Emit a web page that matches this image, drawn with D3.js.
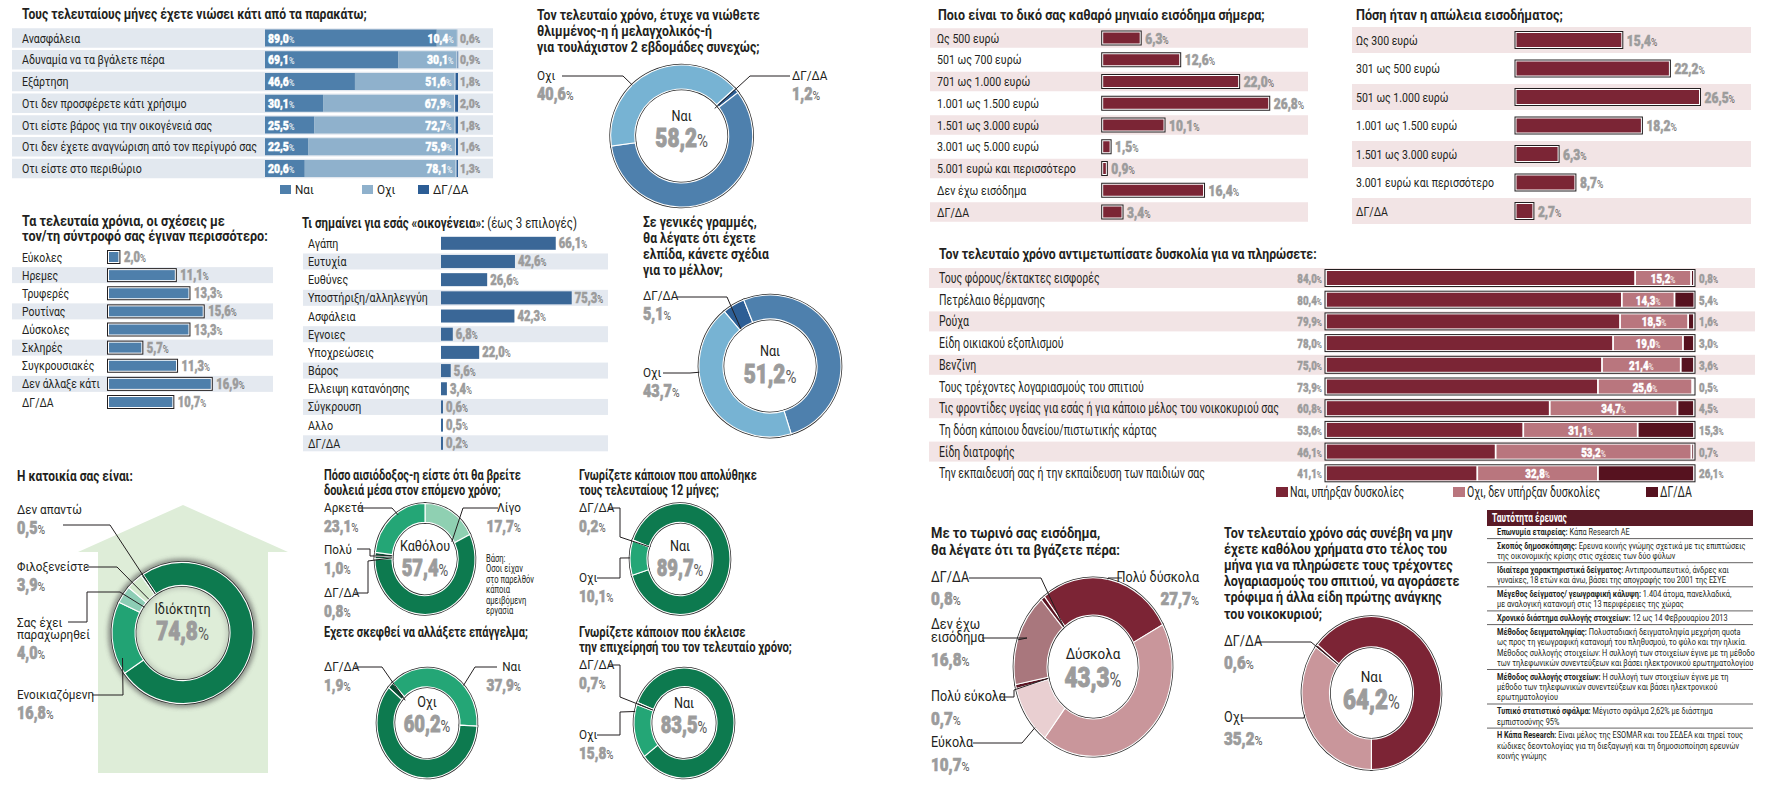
<!DOCTYPE html>
<html><head><meta charset="utf-8">
<script src="https://cdn.jsdelivr.net/npm/d3@7/dist/d3.min.js"></script>
<style>html,body{margin:0;padding:0;background:#fff;overflow:hidden}svg{display:block}</style>
</head><body>
<script>
// ================= DATA =================
const feelCats = ["Ανασφάλεια","Αδυναμία να τα βγάλετε πέρα","Εξάρτηση","Οτι δεν προσφέρετε κάτι χρήσιμο","Οτι είστε βάρος για την οικογένειά σας","Οτι δεν έχετε αναγνώριση από τον περίγυρό σας","Οτι είστε στο περιθώριο"];
const feelYes = [89.0, 69.1, 46.6, 30.1, 25.5, 22.5, 20.6];
const feelNo  = [10.4, 30.1, 51.6, 67.9, 72.7, 75.9, 78.1];
const feelNa  = [0.6, 0.9, 1.8, 2.0, 1.8, 1.6, 1.3];
const feelLegend = ["Ναι","Οχι","ΔΓ/ΔΑ"];

const sadLabels = ["ΔΓ/ΔΑ","Ναι","Οχι"];
const sadValues = [1.2, 58.2, 40.6];

const partnerCats = ["Εύκολες","Ηρεμες","Τρυφερές","Ρουτίνας","Δύσκολες","Σκληρές","Συγκρουσιακές","Δεν άλλαξε κάτι","ΔΓ/ΔΑ"];
const partnerVals = [2.0, 11.1, 13.3, 15.6, 13.3, 5.7, 11.3, 16.9, 10.7];

const familyCats = ["Αγάπη","Ευτυχία","Ευθύνες","Υποστήριξη/αλληλεγγύη","Ασφάλεια","Εγνοιες","Υποχρεώσεις","Βάρος","Ελλειψη κατανόησης","Σύγκρουση","Αλλο","ΔΓ/ΔΑ"];
const familyVals = [66.1, 42.6, 26.6, 75.3, 42.3, 6.8, 22.0, 5.6, 3.4, 0.6, 0.5, 0.2];

const hopeLabels = ["ΔΓ/ΔΑ","Ναι","Οχι"];
const hopeValues = [5.1, 51.2, 43.7];

const homeLabels = ["Ιδιόκτητη","Ενοικιαζόμενη","Σας έχει παραχωρηθεί","Φιλοξενείστε","Δεν απαντώ"];
const homeValues = [74.8, 16.8, 4.0, 3.9, 0.5];

const jobLabels = ["Λίγο","Καθόλου","ΔΓ/ΔΑ","Πολύ","Αρκετά"];
const jobValues = [17.7, 57.4, 0.8, 1.0, 23.1];

const changeLabels = ["ΔΓ/ΔΑ","Ναι","Οχι"];
const changeValues = [1.9, 37.9, 60.2];

const firedLabels = ["Ναι","Οχι","ΔΓ/ΔΑ"];
const firedValues = [89.7, 10.1, 0.2];

const closedLabels = ["Ναι","Οχι","ΔΓ/ΔΑ"];
const closedValues = [83.5, 15.8, 0.7];

const incomeCats = ["Ως 500 ευρώ","501 ως 700 ευρώ","701 ως 1.000 ευρώ","1.001 ως 1.500 ευρώ","1.501 ως 3.000 ευρώ","3.001 ως 5.000 ευρώ","5.001 ευρώ και περισσότερο","Δεν έχω εισόδημα","ΔΓ/ΔΑ"];
const incomeVals = [6.3, 12.6, 22.0, 26.8, 10.1, 1.5, 0.9, 16.4, 3.4];

const lossCats = ["Ως 300 ευρώ","301 ως 500 ευρώ","501 ως 1.000 ευρώ","1.001 ως 1.500 ευρώ","1.501 ως 3.000 ευρώ","3.001 ευρώ και περισσότερο","ΔΓ/ΔΑ"];
const lossVals = [15.4, 22.2, 26.5, 18.2, 6.3, 8.7, 2.7];

const payCats = ["Τους φόρους/έκτακτες εισφορές","Πετρέλαιο θέρμανσης","Ρούχα","Είδη οικιακού εξοπλισμού","Βενζίνη","Τους τρέχοντες λογαριασμούς του σπιτιού","Τις φροντίδες υγείας για εσάς ή για κάποιο μέλος του νοικοκυριού σας","Τη δόση κάποιου δανείου/πιστωτικής κάρτας","Είδη διατροφής","Την εκπαιδευσή σας ή την εκπαίδευση των παιδιών σας"];
const payYes = [84.0, 80.4, 79.9, 78.0, 75.0, 73.9, 60.8, 53.6, 46.1, 41.1];
const payNo  = [15.2, 14.3, 18.5, 19.0, 21.4, 25.6, 34.7, 31.1, 53.2, 32.8];
const payNa  = [0.8, 5.4, 1.6, 3.0, 3.6, 0.5, 4.5, 15.3, 0.7, 26.1];
const payLegend = ["Ναι, υπήρξαν δυσκολίες","Οχι, δεν υπήρξαν δυσκολίες","ΔΓ/ΔΑ"];

const copeLabels = ["Πολύ δύσκολα","Δύσκολα","Εύκολα","Πολύ εύκολα","Δεν έχω εισόδημα","ΔΓ/ΔΑ"];
const copeValues = [27.7, 43.3, 10.7, 0.7, 16.8, 0.8];

const brokeLabels = ["Ναι","Οχι","ΔΓ/ΔΑ"];
const brokeValues = [64.2, 35.2, 0.6];

const surveyRows = [
  ["Επωνυμία εταιρείας:", " Κάπα Research AE"],
  ["Σκοπός δημοσκόπησης:", " Ερευνα κοινής γνώμης σχετικά με τις επιπτώσεις", "της οικονομικής κρίσης στις σχέσεις των δύο φύλων"],
  ["Ιδιαίτερα χαρακτηριστικά δείγματος:", " Αντιπροσωπευτικό, άνδρες και", "γυναίκες, 18 ετών και άνω, βάσει της απογραφής του 2001 της ΕΣΥΕ"],
  ["Μέγεθος δείγματος/ γεωγραφική κάλυψη:", " 1.404 άτομα, πανελλαδικά,", "με αναλογική κατανομή στις 13 περιφέρειες της χώρας"],
  ["Χρονικό διάστημα συλλογής στοιχείων:", " 12 ως 14 Φεβρουαρίου 2013"],
  ["Μέθοδος δειγματοληψίας:", " Πολυσταδιακή δειγματοληψία μεχρήση quota", "ως προς τη γεωγραφική κατανομή του πληθυσμού, το φύλο και την ηλικία.", "Μέθοδος συλλογής στοιχείων: Η συλλογή των στοιχείων έγινε με τη μέθοδο", "των τηλεφωνικών συνεντεύξεων και βάσει ηλεκτρονικού ερωτηματολογίου"],
  ["Μέθοδος συλλογής στοιχείων:", " Η συλλογή των στοιχείων έγινε με τη", "μέθοδο των τηλεφωνικών συνεντεύξεων και βάσει ηλεκτρονικού", "ερωτηματολογίου"],
  ["Τυπικό στατιστικό σφάλμα:", " Μέγιστο σφάλμα 2,62% με διάστημα", "εμπιστοσύνης 95%"],
  ["Η Κάπα Research:", " Είναι μέλος της ESOMAR και του ΣΕΔΕΑ και τηρεί τους", "κώδικες δεοντολογίας για τη διεξαγωγή και τη δημοσιοποίηση ερευνών", "κοινής γνώμης"]
];

// ================= HELPERS =================
const INK = '#231f20', GRAY = '#9c9c9c';
const svg = d3.select('body').append('svg').attr('width', 1768).attr('height', 787)
  .attr('font-family', "Roboto, 'Noto Sans', 'DejaVu Sans', sans-serif");
const defs = svg.append('defs');
defs.append('filter').attr('id', 'blur').attr('x', '-30%').attr('y', '-30%').attr('width', '160%').attr('height', '160%')
  .append('feGaussianBlur').attr('stdDeviation', 2.5);

const fmt = v => d3.format('.1f')(v).replace('.', ',');
function txt(g, x, y, s, o = {}) {
  return g.append('text')
    .attr('transform', `translate(${x},${y}) scale(${o.sx ?? 1},1)`)
    .attr('font-size', o.size ?? 13).attr('font-weight', o.w ?? 400)
    .attr('fill', o.fill ?? INK).attr('text-anchor', o.anchor ?? 'start').text(s);
}
function setSx(t, s) { t.attr('transform', t.attr('transform').replace(/scale\([^)]*\)/, `scale(${s},1)`)); }
function fit(list, target) {
  const L = d3.max(list, t => t.node().getComputedTextLength());
  const s = target / L; list.forEach(t => setSx(t, s)); return s;
}
function val(g, x, y, v, o = {}) {
  const size = o.size ?? 13;
  const fill = o.fill ?? GRAY;
  const t = g.append('text').attr('transform', `translate(${x},${y}) scale(${o.sx ?? 0.8},1)`)
    .attr('text-anchor', o.anchor ?? 'start');
  t.append('tspan').attr('font-size', size).attr('font-weight', 900).attr('fill', fill)
    .attr('stroke', fill).attr('stroke-width', size * 0.035).attr('paint-order', 'stroke').text(fmt(v));
  t.append('tspan').attr('font-size', size * 0.72).attr('font-weight', 400).attr('fill', o.pct ?? '#5a5a5a').text('%');
  return t;
}

// ================= P1: feelings stacked bars =================
(function () {
  const g = svg.append('g');
  fit([txt(g, 22, 19, "Τους τελευταίους μήνες έχετε νιώσει κάτι από τα παρακάτω;", { size: 14, w: 700 })], 345);
  const y = d3.scalePoint().domain(feelCats).range([38, 38 + 21.75 * (feelCats.length - 1)]);
  const x = d3.scaleLinear().domain([0, 100]).range([265, 458]);
  g.selectAll(null).data(feelCats).join('rect').attr('x', 12).attr('width', 481)
    .attr('y', d => y(d) - 9.75).attr('height', 19.5).attr('fill', '#e2e8ef');
  fit(feelCats.map(c => txt(g, 22, y(c) + 4.5, c, { size: 13 })), 235);
  const rows = feelCats.map((c, i) => ({ cat: c, yes: feelYes[i], no: feelNo[i], na: feelNa[i] }));
  const col = ['#4e7fab', '#8fb1cc', '#2c5d95'];
  d3.stack().keys(['yes', 'no', 'na'])(rows).forEach((ser, k) => {
    g.selectAll(null).data(ser).join('rect')
      .attr('x', d => x(d[0]) + (k === 2 ? 1 : 0))
      .attr('width', d => Math.max(0, x(d[1]) - x(d[0]) - (k === 2 ? 1 : 0)))
      .attr('y', d => y(d.data.cat) - 8.5).attr('height', 17).attr('fill', col[k]);
  });
  rows.forEach(r => {
    const yy = y(r.cat) + 4.5;
    val(g, x(0) + 3, yy, r.yes, { fill: '#fff', pct: '#fff', size: 13 });
    val(g, x(r.yes + r.no) - 3, yy, r.no, { fill: '#fff', pct: '#fff', size: 13, anchor: 'end' });
    val(g, x(100) + 2, yy, r.na, { size: 13 });
  });
  const lx = [280, 362, 418];
  feelLegend.forEach((l, k) => {
    g.append('rect').attr('x', lx[k]).attr('y', 185).attr('width', 11).attr('height', 9).attr('fill', col[k]);
    txt(g, lx[k] + 15, 194, l, { size: 13, sx: 0.9 });
  });
})();

// ================= DONUT helper =================
function donut(c) {
  const g = svg.append('g');
  const rad = Math.PI / 180, ky = c.ky ?? 1;
  const arcs = d3.pie().sort(null).value(d => d)
    .startAngle(c.start * rad).endAngle(c.start * rad + 2 * Math.PI)(c.values);
  const arc = d3.arc().innerRadius(c.ri).outerRadius(c.ro);
  const rg = g.append('g').attr('transform', `translate(${c.cx},${c.cy}) scale(1,${ky})`);
  if (c.shadow) {
    rg.append('circle').attr('r', c.ro + 1).attr('fill', 'none').attr('stroke', '#555')
      .attr('stroke-width', 5).attr('filter', 'url(#blur)').attr('opacity', 0.75);
    rg.append('circle').attr('r', c.ri - 1).attr('fill', 'none').attr('stroke', '#777')
      .attr('stroke-width', 3).attr('filter', 'url(#blur)').attr('opacity', 0.5);
  }
  rg.selectAll(null).data(arcs).join('path').attr('d', arc).attr('fill', (d, i) => c.colors[i])
    .attr('stroke', '#2b2b2b').attr('stroke-width', 2.6).attr('vector-effect', 'non-scaling-stroke');
  rg.selectAll(null).data(arcs).join('path').attr('d', arc).attr('fill', (d, i) => c.colors[i])
    .attr('stroke', '#fff').attr('stroke-width', 1.1).attr('vector-effect', 'non-scaling-stroke');
  const ce = c.center;
  txt(g, c.cx, c.cy + ce.ly, c.labels[ce.idx], { anchor: 'middle', size: ce.nsize ?? 14, sx: 0.9 });
  val(g, c.cx, c.cy + ce.vy, c.values[ce.idx], { anchor: 'middle', size: ce.vsize ?? 26, sx: 0.8 });
  c.callouts.forEach(o => {
    const lines = o.lines ?? [c.labels[o.idx]];
    const lh = o.lh ?? 12.5;
    lines.forEach((s, k) => txt(g, o.x, o.y + k * lh, s, { size: o.size ?? 13, anchor: o.anchor, sx: 0.9 }));
    val(g, o.x, o.y + (lines.length - 1) * lh + (o.vgap ?? 20), c.values[o.idx],
      { size: o.vsize ?? 18, anchor: o.anchor, sx: 0.8 });
    const a = arcs[o.idx], ang = a.startAngle + o.t * (a.endAngle - a.startAngle);
    const p = [c.cx + o.r * Math.sin(ang), c.cy - o.r * Math.cos(ang) * ky];
    g.append('path').attr('d', d3.line()([...o.path, p])).attr('fill', 'none')
      .attr('stroke', INK).attr('stroke-width', 1);
  });
  return g;
}
function titleBlock(x, y0, lines, step, target, size) {
  const g = svg.append('g');
  fit(lines.map((s, k) => txt(g, x, y0 + k * step, s, { size: size ?? 14, w: 700 })), target);
}

// ================= P2: sad donut =================
titleBlock(537, 20, ["Τον τελευταίο χρόνο, έτυχε να νιώθετε", "θλιμμένος-η ή μελαγχολικός-ή", "για τουλάχιστον 2 εβδομάδες συνεχώς;"], 16, 223);
donut({
  cx: 681.7, cy: 136, ro: 71, ri: 47, start: 48, labels: sadLabels, values: sadValues,
  colors: ['#2d5e95', '#4e80ad', '#77b3d3'],
  center: { idx: 1, ly: -15, vy: 11 },
  callouts: [
    { idx: 2, x: 537, y: 80, path: [[562, 76], [623, 76]], t: 0.37, r: 71 },
    { idx: 0, x: 792, y: 80, path: [[790, 76], [750, 76]], t: 0.5, r: 43 }
  ]
});

// ================= P3: partner bars =================
(function () {
  const g = svg.append('g');
  fit([txt(g, 22, 226, "Τα τελευταία χρόνια, οι σχέσεις με", { size: 14, w: 700 }),
       txt(g, 22, 241, "τον/τη σύντροφό σας έγιναν περισσότερο:", { size: 14, w: 700 })], 246);
  const y = d3.scalePoint().domain(partnerCats).range([257, 402]);
  const x = d3.scaleLinear().domain([0, 10]).range([107.5, 169.5]);
  g.selectAll(null).data(partnerCats.filter((d, i) => i % 2)).join('rect').attr('x', 12).attr('width', 261)
    .attr('y', d => y(d) - 8).attr('height', 16).attr('fill', '#e4e9f0');
  fit(partnerCats.map(c => txt(g, 22, y(c) + 4.5, c, { size: 13 })), 78);
  g.selectAll(null).data(partnerVals).join('rect').attr('x', x(0)).attr('y', (d, i) => y(partnerCats[i]) - 6.5)
    .attr('width', d => x(d) - x(0)).attr('height', 13).attr('fill', '#fff').attr('stroke', INK).attr('stroke-width', 1);
  g.selectAll(null).data(partnerVals).join('rect').attr('x', x(0) + 1.5).attr('y', (d, i) => y(partnerCats[i]) - 5)
    .attr('width', d => Math.max(0, x(d) - x(0) - 3)).attr('height', 10).attr('fill', '#4e7fab');
  partnerVals.forEach((v, i) => val(g, x(v) + 4, y(partnerCats[i]) + 5, v, { size: 14 }));
})();

// ================= P4: family bars =================
(function () {
  const g = svg.append('g');
  const t = g.append('text').attr('transform', 'translate(302,228) scale(1,1)').attr('font-size', 14).attr('fill', INK);
  t.append('tspan').attr('font-weight', 700).text("Τι σημαίνει για εσάς «οικογένεια»:");
  t.append('tspan').attr('font-weight', 400).text(" (έως 3 επιλογές)");
  fit([t], 275);
  const y = d3.scalePoint().domain(familyCats).range([243.3, 443.3]);
  const x = d3.scaleLinear().domain([0, 100]).range([441, 614.6]);
  g.selectAll(null).data(familyCats.filter((d, i) => i % 2)).join('rect').attr('x', 303).attr('width', 305)
    .attr('y', d => y(d) - 8).attr('height', 16).attr('fill', '#e4e9f0');
  fit(familyCats.map(c => txt(g, 308, y(c) + 4.5, c, { size: 13 })), 120);
  const w = v => Math.max(2, x(v) - x(0));
  g.selectAll(null).data(familyVals).join('rect').attr('x', x(0)).attr('y', (d, i) => y(familyCats[i]) - 6.5)
    .attr('width', w).attr('height', 13).attr('fill', '#3a6797');
  familyVals.forEach((v, i) => val(g, x(0) + w(v) + 3, y(familyCats[i]) + 5, v, { size: 14 }));
})();

// ================= P5: hope donut =================
titleBlock(643, 227, ["Σε γενικές γραμμές,", "θα λέγατε ότι έχετε", "ελπίδα, κάνετε σχέδια", "για το μέλλον;"], 16, 126);
donut({
  cx: 770, cy: 366, ro: 71, ri: 47, start: -40, labels: hopeLabels, values: hopeValues,
  colors: ['#2d5e95', '#4e80ad', '#77b3d3'],
  center: { idx: 1, ly: -10, vy: 17 },
  callouts: [
    { idx: 0, x: 643, y: 300, path: [[677, 297], [727, 297]], t: 0.1, r: 47 },
    { idx: 2, x: 643, y: 377, path: [[663, 373], [690, 373]], t: 0.65, r: 71 }
  ]
});

// ================= P6: house donut =================
(function () {
  const g = svg.append('g');
  fit([txt(g, 17, 481, "Η κατοικία σας είναι:", { size: 14, w: 700 })], 116);
  g.append('path').attr('d', d3.line()([[183, 505], [288, 552], [268, 552], [268, 773], [98, 773], [98, 552], [78, 552]]) + 'Z')
    .attr('fill', '#deedd8');
})();
donut({
  cx: 182.5, cy: 633, ro: 70.5, ri: 47.5, start: -34, labels: homeLabels, values: homeValues, shadow: true,
  colors: ['#0d7a4f', '#22a374', '#8dcdb5', '#d3e9cc', '#0a4d33'],
  center: { idx: 0, ly: -19, vy: 7 },
  callouts: [
    { idx: 4, x: 17, y: 514, path: [[63, 525], [110, 525]], t: 0.5, r: 47.5 },
    { idx: 3, x: 17, y: 571, path: [[86, 567], [117, 567]], t: 0.35, r: 47.5 },
    { idx: 2, x: 17, y: 627, lines: ["Σας έχει", "παραχωρηθεί"], lh: 12, path: [[68, 622], [87, 622], [87, 592], [120, 592]], t: 0.58, r: 46 },
    { idx: 1, x: 17, y: 699, path: [[92, 695], [123, 695]], t: 0.2, r: 65 }
  ]
});

// ================= P7: job donuts =================
titleBlock(324, 480, ["Πόσο αισιόδοξος-η είστε ότι θα βρείτε", "δουλειά μέσα στον επόμενο χρόνο;"], 15, 197);
titleBlock(324, 637, ["Εχετε σκεφθεί να αλλάξετε επάγγελμα;"], 15, 204);
titleBlock(579, 480, ["Γνωρίζετε κάποιον που απολύθηκε", "τους τελευταίους 12 μήνες;"], 15, 178);
titleBlock(579, 637, ["Γνωρίζετε κάποιον που έκλεισε", "την επιχείρησή του τον τελευταίο χρόνο;"], 15, 213);
(function () {
  const g = svg.append('g');
  const lines = ["Βάση:", "Οσοι είχαν", "στο παρελθόν", "κάποια", "αμειβόμενη", "εργασία"];
  fit(lines.map((s, k) => txt(g, 486, 562 + k * 10.4, s, { size: 10.5 })), 48);
})();
const GREENS = { dark: '#0d7a4f', mid: '#24a676', light: '#8fd0b2', deep: '#0a4d33' };
donut({
  cx: 425, cy: 559, ro: 50, ri: 33, ky: 1.11, start: 0, labels: jobLabels, values: jobValues,
  colors: [GREENS.light, GREENS.dark, GREENS.deep, GREENS.deep, GREENS.mid],
  center: { idx: 1, ly: -8, vy: 17, vsize: 23 },
  callouts: [
    { idx: 4, x: 324, y: 512, path: [[358, 508], [392, 508]], t: 0.59, r: 48, vsize: 17 },
    { idx: 0, x: 521, y: 512, anchor: 'end', path: [[498, 508], [463, 508]], t: 0.94, r: 31, vsize: 17 },
    { idx: 3, x: 324, y: 554, path: [[357, 549], [370, 549], [370, 556]], t: 0.5, r: 33, vsize: 17 },
    { idx: 2, x: 324, y: 597, path: [[355, 593], [368, 593], [368, 561]], t: 0.5, r: 33, vsize: 17 }
  ]
});
donut({
  cx: 427, cy: 723, ro: 50, ri: 33, ky: 1.1, start: -50, labels: changeLabels, values: changeValues,
  colors: [GREENS.deep, GREENS.mid, GREENS.dark],
  center: { idx: 2, ly: -16, vy: 9, vsize: 23 },
  callouts: [
    { idx: 0, x: 324, y: 671, path: [[355, 667], [382, 667]], t: 0.5, r: 30, vsize: 17 },
    { idx: 1, x: 521, y: 671, anchor: 'end', path: [[497, 667], [475, 667]], t: 0.66, r: 50, vsize: 17 }
  ]
});
donut({
  cx: 680, cy: 559, ro: 50, ri: 33, ky: 1.11, start: -70, labels: firedLabels, values: firedValues,
  colors: [GREENS.dark, GREENS.mid, GREENS.deep],
  center: { idx: 0, ly: -8, vy: 17, vsize: 23 },
  callouts: [
    { idx: 2, x: 579, y: 512, path: [[608, 508], [620, 508], [620, 537]], t: 0.5, r: 33, vsize: 17 },
    { idx: 1, x: 579, y: 582, path: [[597, 578], [620, 578], [620, 558]], t: 0.5, r: 50, vsize: 17 }
  ]
});
donut({
  cx: 684, cy: 723, ro: 50, ri: 33, ky: 1.1, start: -68, labels: closedLabels, values: closedValues,
  colors: [GREENS.dark, GREENS.mid, GREENS.deep],
  center: { idx: 0, ly: -15, vy: 10, vsize: 23 },
  callouts: [
    { idx: 2, x: 579, y: 669, path: [[608, 665], [620, 665], [620, 697]], t: 0.5, r: 33, vsize: 17 },
    { idx: 1, x: 579, y: 739, path: [[597, 735], [620, 735], [620, 712]], t: 0.87, r: 50, vsize: 17 }
  ]
});

// ================= P8/P9: maroon bars =================
function maroonBars(c) {
  const g = svg.append('g');
  fit([txt(g, c.tx, 20, c.title, { size: 14, w: 700 })], c.tw);
  const y = d3.scalePoint().domain(c.cats).range(c.yr);
  const x = d3.scaleLinear().domain([0, 10]).range([c.x0, c.x0 + c.k * 10]);
  g.selectAll(null).data(c.cats.filter((d, i) => i % 2 === 0)).join('rect').attr('x', c.bx0).attr('width', c.bx1 - c.bx0)
    .attr('y', d => y(d) - c.bh / 2).attr('height', c.bh).attr('fill', '#f2e4e5');
  fit(c.cats.map(s => txt(g, c.lx, y(s) + 4.5, s, { size: 13 })), c.lw);
  g.selectAll(null).data(c.vals).join('rect').attr('x', x(0)).attr('y', (d, i) => y(c.cats[i]) - c.h / 2)
    .attr('width', d => x(d) - x(0)).attr('height', c.h).attr('fill', '#fff').attr('stroke', INK).attr('stroke-width', 1);
  g.selectAll(null).data(c.vals).join('rect').attr('x', x(0) + 1.5).attr('y', (d, i) => y(c.cats[i]) - c.h / 2 + 1.5)
    .attr('width', d => Math.max(0.8, x(d) - x(0) - 3)).attr('height', c.h - 3).attr('fill', '#7b2535');
  c.vals.forEach((v, i) => val(g, x(v) + 4, y(c.cats[i]) + 5.5, v, { size: 15 }));
}
maroonBars({ title: "Ποιο είναι το δικό σας καθαρό μηνιαίο εισόδημα σήμερα;", tx: 938, tw: 327,
  cats: incomeCats, vals: incomeVals, yr: [38, 212], bx0: 930, bx1: 1308, bh: 19.5, lx: 937, lw: 139,
  x0: 1101.7, k: 6.27, h: 14 });
maroonBars({ title: "Πόση ήταν η απώλεια εισοδήματος;", tx: 1356, tw: 207,
  cats: lossCats, vals: lossVals, yr: [40, 211], bx0: 1352, bx1: 1751, bh: 26, lx: 1356, lw: 138,
  x0: 1515, k: 7.0, h: 17 });

// ================= P10: payment difficulty =================
(function () {
  const g = svg.append('g');
  fit([txt(g, 939, 259, "Τον τελευταίο χρόνο αντιμετωπίσατε δυσκολία για να πληρώσετε:", { size: 14, w: 700 })], 378);
  const y = d3.scalePoint().domain(payCats).range([278, 473.3]);
  const x = d3.scaleLinear().domain([0, 100]).range([1326, 1694]);
  g.selectAll(null).data(payCats.filter((d, i) => i % 2 === 0)).join('rect').attr('x', 929).attr('width', 826)
    .attr('y', d => y(d) - 10).attr('height', 20).attr('fill', '#f2e4e5');
  const s = fit(payCats.map(c => txt(g, 939, y(c) + 5, c, { size: 14 })), 340);
  const rows = payCats.map((c, i) => ({ cat: c, yes: payYes[i], no: payNo[i], na: payNa[i] }));
  g.selectAll(null).data(rows).join('rect').attr('x', x(0) - 1).attr('width', x(100) - x(0) + 2)
    .attr('y', d => y(d.cat) - 8.5).attr('height', 17).attr('fill', '#fff').attr('stroke', INK).attr('stroke-width', 1);
  const col = ['#7b2535', '#b9767e', '#56121f'];
  d3.stack().keys(['yes', 'no', 'na'])(rows).forEach((ser, k) => {
    g.selectAll(null).data(ser).join('rect')
      .attr('x', d => x(d[0]) + 0.9).attr('width', d => Math.max(0, x(d[1]) - x(d[0]) - 1.8))
      .attr('y', d => y(d.data.cat) - 7).attr('height', 14).attr('fill', col[k]);
  });
  rows.forEach(r => {
    const yy = y(r.cat) + 5;
    val(g, 1322, yy, r.yes, { size: 13.5, anchor: 'end', sx: 0.72 });
    val(g, (x(r.yes) + x(r.yes + r.no)) / 2, yy, r.no, { size: 13.5, anchor: 'middle', fill: '#fff', pct: '#fff', sx: 0.72 });
    val(g, 1699, yy, r.na, { size: 13.5, sx: 0.72 });
  });
  const lx = [1276, 1453, 1646];
  payLegend.forEach((l, k) => {
    g.append('rect').attr('x', lx[k]).attr('y', 487).attr('width', 12).attr('height', 10).attr('fill', col[k]);
    txt(g, lx[k] + 14, 497, l, { size: 14, sx: s });
  });
})();

// ================= P11: cope donut =================
titleBlock(931, 538, ["Με το τωρινό σας εισόδημα,", "θα λέγατε ότι τα βγάζετε πέρα:"], 17, 189);
donut({
  cx: 1093, cy: 667, ro: 79, ri: 46, ky: 1.13, start: -38, labels: copeLabels, values: copeValues,
  colors: ['#7c2435', '#c9969b', '#e9cfd1', '#5a1422', '#a9777d', '#5a1422'],
  center: { idx: 1, ly: -8, vy: 20, nsize: 15, vsize: 28 },
  callouts: [
    { idx: 5, x: 931, y: 582, path: [[969, 578], [1041, 578]], t: 0.5, r: 46, size: 14, vgap: 23, vsize: 19 },
    { idx: 4, x: 931, y: 629, lines: ["Δεν έχω", "εισόδημα"], lh: 13, path: [[982, 638], [1027, 638]], t: 0.48, r: 79, size: 14, vgap: 24, vsize: 19 },
    { idx: 3, x: 931, y: 701, path: [[999, 697], [1014, 697], [1014, 690]], t: 0.5, r: 46, size: 14, vgap: 24, vsize: 19 },
    { idx: 2, x: 931, y: 747, path: [[973, 743], [1022, 743]], t: 0.25, r: 79, size: 14, vgap: 24, vsize: 19 },
    { idx: 0, x: 1199, y: 582, anchor: 'end', path: [[1122, 578], [1108, 578]], t: 0.49, r: 79, size: 14, vgap: 23, vsize: 19 }
  ]
});

// ================= P12: broke donut =================
titleBlock(1224, 538, ["Τον τελευταίο χρόνο σάς συνέβη να μην", "έχετε καθόλου χρήματα στο τέλος του", "μήνα για να πληρώσετε τους τρέχοντες", "λογαριασμούς του σπιτιού, να αγοράσετε", "τρόφιμα ή άλλα είδη πρώτης ανάγκης", "του νοικοκυριού;"], 16.1, 236);
donut({
  cx: 1371.5, cy: 693, ro: 69.5, ri: 42, ky: 1.1, start: -51, labels: brokeLabels, values: brokeValues,
  colors: ['#7c2435', '#c9969b', '#5a1422'],
  center: { idx: 0, ly: -11, vy: 16, nsize: 15, vsize: 28 },
  callouts: [
    { idx: 2, x: 1224, y: 646, path: [[1257, 642], [1311, 642]], t: 0.5, r: 42, size: 14, vgap: 23, vsize: 19 },
    { idx: 1, x: 1224, y: 722, path: [[1242, 718], [1304, 718]], t: 0.58, r: 69.5, size: 14, vgap: 23, vsize: 19 }
  ]
});

// ================= P13: survey table =================
(function () {
  const g = svg.append('g');
  g.append('rect').attr('x', 1487).attr('y', 510).attr('width', 266).attr('height', 16).attr('fill', '#5a1a26');
  fit([txt(g, 1492, 522, "Ταυτότητα έρευνας", { size: 12, w: 700, fill: '#fff' })], 75);
  const all = [];
  let yb = 535;
  const lh = 10.4, gap = 13.7;
  surveyRows.forEach((row, ri) => {
    if (ri > 0) {
      g.append('line').attr('x1', 1487).attr('x2', 1753).attr('y1', yb - gap + 3.6).attr('y2', yb - gap + 3.6)
        .attr('stroke', INK).attr('stroke-width', 0.7);
    }
    const t = g.append('text').attr('transform', `translate(1497,${yb}) scale(1,1)`).attr('font-size', 9.5).attr('fill', INK);
    t.append('tspan').attr('font-weight', 700).text(row[0]);
    t.append('tspan').attr('font-weight', 400).text(row[1]);
    all.push(t);
    for (let k = 2; k < row.length; k++) {
      yb += lh;
      all.push(txt(g, 1497, yb, row[k], { size: 9.5 }));
    }
    yb += gap;
  });
  fit(all, 258);
})();
</script>
</body></html>
